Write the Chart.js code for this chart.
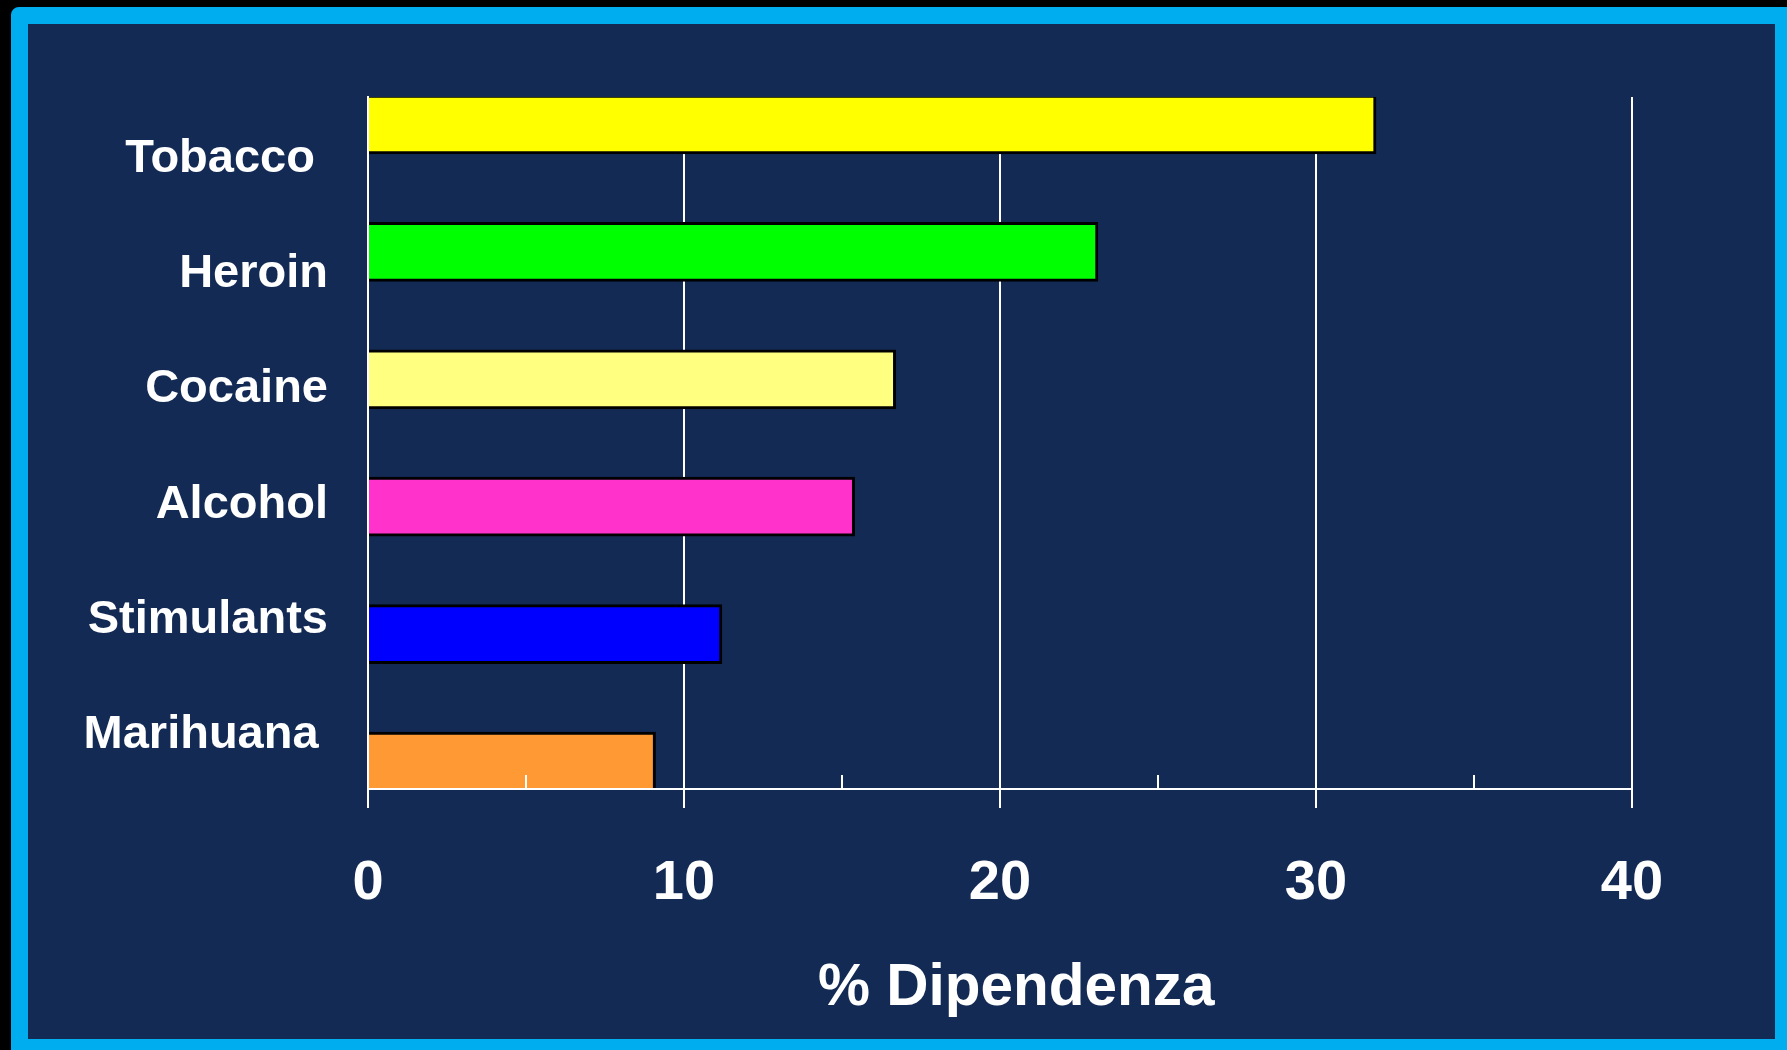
<!DOCTYPE html>
<html>
<head>
<meta charset="utf-8">
<script src="https://cdn.jsdelivr.net/npm/chart.js@4.4.1/dist/chart.umd.min.js"></script>
<style>
  html, body { margin: 0; padding: 0; background: #000; width: 1787px; height: 1050px; overflow: hidden; }
  #frame {
    position: absolute; left: 11px; top: 7px; width: 1781px; height: 1049px;
    box-sizing: border-box; background: #132A55;
    border: 17px solid #00AEEF; border-radius: 8px 0 0 0;
  }
  #wrap { position: absolute; left: 0; top: 0; width: 1787px; height: 1050px; }
</style>
</head>
<body>
<div id="frame"></div>
<div id="wrap"><canvas id="chart" width="1787" height="1050"></canvas></div>
<script>
// Substances and the share of users who become dependent (%)
const categories = ['Tobacco ', 'Heroin', 'Cocaine', 'Alcohol', 'Stimulants', 'Marihuana\u2009'];
const dependence = [31.9, 23.1, 16.7, 15.4, 11.2, 9.1];
const barColors = ['#FFFF00', '#00FF00', '#FFFF80', '#FF33CC', '#0000FF', '#FF9933'];
const xTickValues = [0, 10, 20, 30, 40];
const xTitle = '% Dipendenza';

const FONT = '"Liberation Sans", Arial, Helvetica, sans-serif';
const WHITE = '#FFFFFF';

// Axis lines and the half-step ticks drawn on top of the bars
const axisOverlay = {
  id: 'axisOverlay',
  afterDatasetsDraw(chart) {
    const { ctx, chartArea } = chart;
    const xs = chart.scales.x;
    ctx.save();
    ctx.strokeStyle = WHITE;
    ctx.lineWidth = 2;
    for (let i = 0; i < xTickValues.length - 1; i++) {
      const mid = (xTickValues[i] + xTickValues[i + 1]) / 2;
      const px = Math.round(xs.getPixelForValue(mid));
      ctx.beginPath();
      ctx.moveTo(px, chartArea.bottom - 14);
      ctx.lineTo(px, chartArea.bottom);
      ctx.stroke();
    }
    ctx.beginPath();
    ctx.moveTo(chartArea.left, chartArea.bottom);
    ctx.lineTo(chartArea.right, chartArea.bottom);
    ctx.stroke();
    ctx.beginPath();
    ctx.moveTo(chartArea.left, chartArea.top);
    ctx.lineTo(chartArea.left, chartArea.bottom + 19);
    ctx.stroke();
    ctx.restore();
  }
};

new Chart(document.getElementById('chart'), {
  type: 'bar',
  data: {
    datasets: [{
      data: dependence.map((v, i) => ({ x: v, y: i })),
      backgroundColor: barColors,
      borderColor: '#000000',
      borderWidth: 3,
      borderSkipped: 'start',
      barThickness: 59,
      xAxisID: 'x',
      yAxisID: 'yb'
    }]
  },
  options: {
    indexAxis: 'y',
    responsive: false,
    animation: false,
    events: [],
    layout: { padding: { left: 0, top: 97, right: 155, bottom: 0 } },
    plugins: { legend: { display: false }, tooltip: { enabled: false } },
    scales: {
      x: {
        type: 'linear',
        position: 'bottom',
        min: xTickValues[0],
        max: xTickValues[xTickValues.length - 1],
        afterBuildTicks(scale) { scale.ticks = xTickValues.map(v => ({ value: v })); },
        grid: { color: WHITE, lineWidth: 2, tickLength: 19, drawTicks: true },
        border: { display: true, color: WHITE, width: 2 },
        ticks: { color: WHITE, padding: 42, font: { family: FONT, size: 56, weight: 'bold' } },
        title: {
          display: true, text: '  ' + xTitle, color: WHITE,
          font: { family: FONT, size: 58.5, weight: 'bold' },
          padding: { top: 0, bottom: 26 }
        },
        afterFit(scale) { scale.height = 261; }
      },
      y: {
        type: 'category',
        position: 'left',
        labels: categories,
        offset: true,
        grid: { display: false, drawTicks: false },
        border: { display: true, color: WHITE, width: 2 },
        ticks: { color: WHITE, padding: 40, labelOffset: 4, font: { family: FONT, size: 47, weight: 'bold' } },
        afterFit(scale) { scale.width = 368; }
      },
      yb: {
        type: 'linear',
        position: 'left',
        display: true,
        offset: false,
        grace: 0,
        bounds: 'data',
        reverse: true,
        min: -0.216,
        max: 5.216,
        grid: { display: false, drawTicks: false },
        border: { display: false },
        ticks: { display: false },
        afterFit(scale) { scale.width = 0; }
      }
    }
  },
  plugins: [axisOverlay]
});
</script>
</body>
</html>
